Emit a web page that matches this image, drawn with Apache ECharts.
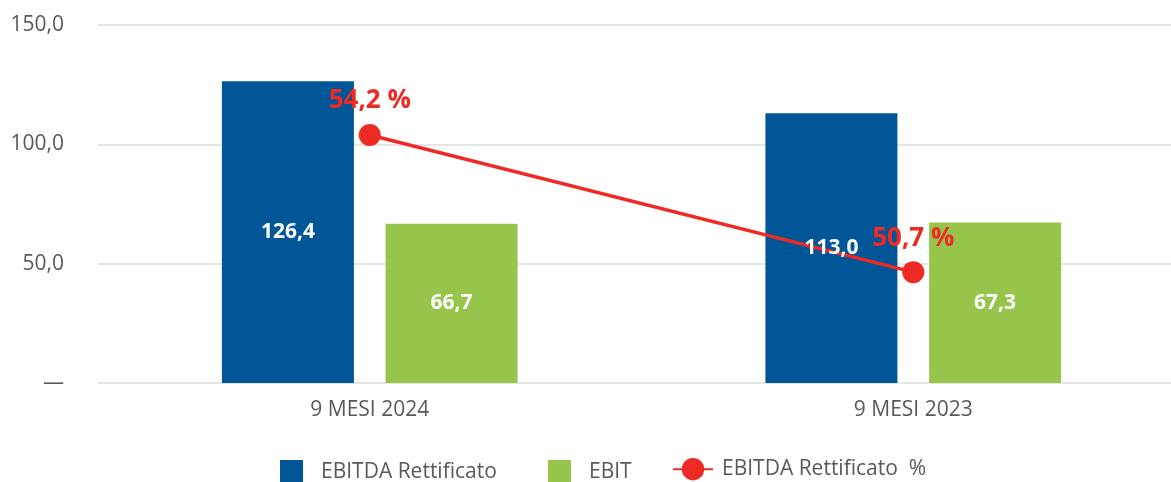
<!DOCTYPE html>
<html lang="it">
<head>
    <meta charset="UTF-8">
    <title>EBITDA Rettificato / EBIT</title>
    <script src="https://cdn.jsdelivr.net/npm/echarts@6.0.0/dist/echarts.min.js"></script>
    <style>
        html, body { margin: 0; padding: 0; background: #fff; }
        #chart { width: 1171px; height: 482px; }
    </style>
</head>
<body>
<div id="chart"></div>
<script>
    var categories = ['9 MESI 2024', '9 MESI 2023'];
    var ebitdaRett = [126.4, 113.0];
    var ebit = [66.7, 67.3];
    var ebitdaPct = [54.2, 50.7];
    var yTicks = [0, 50, 100, 150];

    function itNum(v) {
        return Number(v).toFixed(1).replace('.', ',');
    }

    var font = '"Open Sans", sans-serif';
    var grey = '#595959';
    var blue = '#005697';
    var green = '#97c54b';
    var red = '#ee2a24';

    var chart = echarts.init(document.getElementById('chart'));

    var legendBase = {
        top: 460,
        padding: 0,
        orient: 'horizontal',
        icon: 'rect',
        itemHeight: 24,
        itemWidth: 23,
        textStyle: { fontFamily: font, fontSize: 21, color: grey, padding: [6, 0, 0, 13] }
    };

    var barLabel = {
        show: true, position: 'inside', color: '#fff',
        fontFamily: font, fontSize: 21, fontWeight: 'bold',
        formatter: function (p) { return itNum(p.value); }
    };

    // bars drawn under the line, their labels on a twin axis above it
    function barSeries(name, data, color, axis, withLabel) {
        return {
            name: name,
            type: 'bar',
            xAxisIndex: axis,
            data: data,
            barWidth: 132,
            barGap: '24%',
            z: withLabel ? 4 : 2,
            silent: withLabel,
            itemStyle: { color: withLabel ? 'rgba(0,0,0,0)' : color },
            label: withLabel ? barLabel : { show: false }
        };
    }

    var option = {
        animation: false,
        textStyle: { fontFamily: font },
        grid: { left: 98, width: 1087, top: 25, bottom: 99, outerBoundsMode: 'none', containLabel: false },
        legend: [
            Object.assign({}, legendBase, { left: 280, data: ['EBITDA Rettificato'] }),
            Object.assign({}, legendBase, { left: 548, data: ['EBIT'] }),
            Object.assign({}, legendBase, {
                left: 672, top: 458, itemWidth: 40, itemHeight: 28, icon: null,
                textStyle: { fontFamily: font, fontSize: 21, color: grey, padding: [6, 0, 0, 4] },
                data: ['EBITDA Rettificato  %']
            })
        ],
        xAxis: [
            {
                type: 'category',
                data: categories,
                axisLine: { show: false },
                axisTick: { show: false },
                axisLabel: { fontFamily: font, fontSize: 21, color: grey, margin: 17 }
            },
            {
                type: 'category',
                data: categories,
                show: false
            }
        ],
        yAxis: [
            {
                type: 'value',
                min: yTicks[0],
                max: yTicks[yTicks.length - 1],
                interval: yTicks[1] - yTicks[0],
                axisLine: { show: false },
                axisTick: { show: false },
                splitLine: { lineStyle: { color: '#e6e6e6', width: 2 } },
                axisLabel: {
                    fontFamily: font, fontSize: 21, color: grey, margin: 34,
                    formatter: function (v) { return v === 0 ? '—' : itNum(v); }
                }
            },
            {
                type: 'value',
                show: false,
                min: 47.87,
                max: 57.01,
                splitLine: { show: false }
            }
        ],
        series: [
            barSeries('EBITDA Rettificato', ebitdaRett, blue, 0, false),
            barSeries('EBIT', ebit, green, 0, false),
            barSeries('lbl_ebitda', ebitdaRett, blue, 1, true),
            barSeries('lbl_ebit', ebit, green, 1, true),
            {
                name: 'EBITDA Rettificato  %',
                type: 'line',
                yAxisIndex: 1,
                data: ebitdaPct,
                symbol: 'circle',
                symbolSize: 22,
                z: 3,
                itemStyle: { color: red },
                lineStyle: { color: red, width: 3.5 },
                label: {
                    show: true, position: 'top', distance: 10, color: red,
                    fontFamily: font, fontSize: 26, fontWeight: 'bold',
                    formatter: function (p) { return itNum(p.value) + ' %'; }
                }
            }
        ]
    };

    chart.setOption(option);
</script>
</body>
</html>
